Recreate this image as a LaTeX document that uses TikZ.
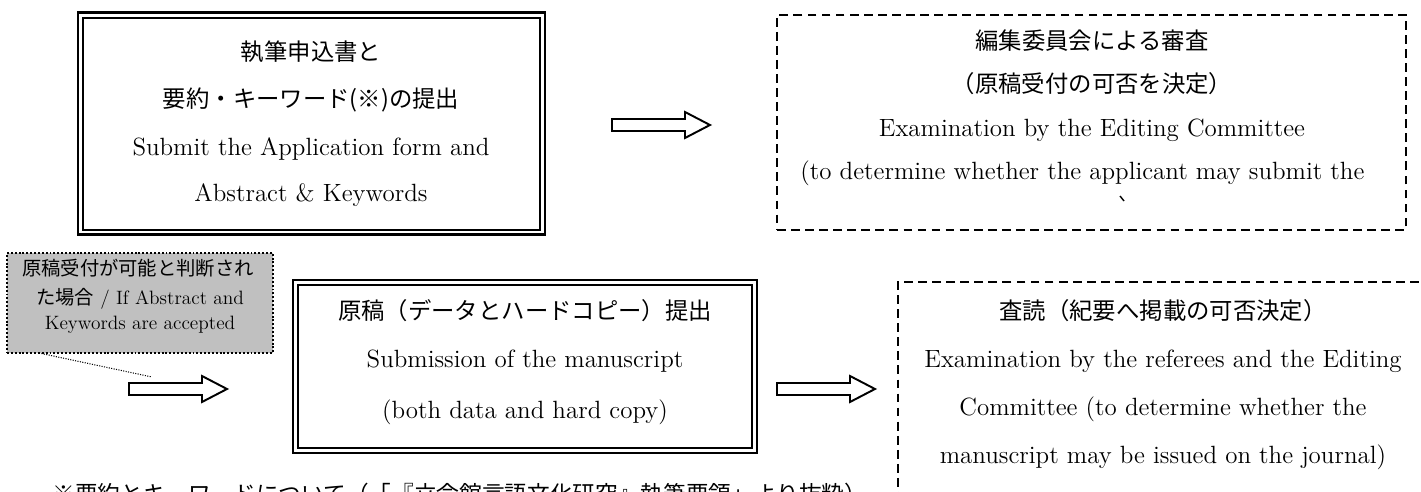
\documentclass[tikz,border=0pt]{standalone}
\usepackage{fontspec}
\newfontfamily\jp{Noto Sans CJK JP}
\usetikzlibrary{fit}
\definecolor{boxgray}{HTML}{C0C0C0}
\newcommand\Jm[1]{{\jp\fontsize{13.3pt}{16pt}\selectfont #1}}
\newcommand\Jg[1]{{\jp\fontsize{11pt}{13pt}\selectfont #1}}
\tikzset{
  dblouter/.style={draw, line width=1.7pt, inner sep=0pt, outer sep=0pt},
  dblinner/.style={draw, line width=0.7pt},
  dashbox/.style={draw, line width=0.85pt, dash pattern=on 5pt off 3pt, inner sep=0pt, outer sep=0pt},
  graybox/.style={draw, fill=boxgray, line width=1.1pt, dash pattern=on 1.1pt off 1.1pt, inner sep=0pt, outer sep=0pt},
  txt/.style={inner sep=0pt, text height=10pt, text depth=0pt, anchor=center, font=\fontsize{14.2pt}{17pt}\selectfont},
  smalltxt/.style={inner sep=0pt, text height=8pt, text depth=0pt, anchor=center, font=\fontsize{11pt}{13pt}\selectfont},
  arrowline/.style={draw, fill=white, line width=1.1pt, line join=miter},
  blockarr/.pic={\path[arrowline] (0,-6) -- (73,-6) -- (73,-13) -- (98,0) -- (73,13) -- (73,6) -- (0,6) -- cycle;},
}
\begin{document}
\begin{tikzpicture}[x=0.02cm,y=-0.02cm]
\useasboundingbox (0,0) rectangle (1421,492);
\clip (0,0) rectangle (1421,492);
\fill[white] (0,0) rectangle (1421,492);

% box 1
\node[dblouter, fit={(78,13) (545,235)}] (b1) {};
\draw[dblinner] ([xshift=0.1cm,yshift=-0.1cm]b1.north west) rectangle ([xshift=-0.1cm,yshift=0.1cm]b1.south east);
\node[txt] (t1a) at (311,52) {\Jm{執筆申込書と}};
\node[txt] (t1b) at (311,99) {\Jm{要約・キーワード(※)の提出}};
\node[txt] (t1c) at (311,147) {Submit the Application form and};
\node[txt] (t1d) at (311,193) {Abstract \& Keywords};

% arrow 1
\pic (a1) at (612,125) {blockarr};

% dashed box 1
\node[dashbox, fit={(777,15) (1406,230)}] (b2) {};
\node[txt] (t2a) at (1092,41) {\Jm{編集委員会による審査}};
\node[txt] (t2b) at (1092,84) {\Jm{（原稿受付の可否を決定）}};
\node[txt] (t2c) at (1092,128) {Examination by the Editing Committee};
\node[txt, anchor=west] (t2d) at (800,171) {(to determine whether the applicant may submit the};
\draw[line width=0.8pt] (1120,196) -- (1124,201);

% gray note
\node[graybox, fit={(7,253) (273,353)}] (g) {};
\node[smalltxt] (g1) at (138,268) {\Jg{原稿受付が可能と判断され}};
\node[smalltxt] (g2) at (140,297) {\Jg{た場合}\ / If Abstract and};
\node[smalltxt] (g3) at (140,322) {Keywords are accepted};
\coordinate (cs) at ([xshift=0.64cm]g.south west);
\coordinate (ce) at (152,377);
\draw[line width=0.6pt, dash pattern=on 0.6pt off 0.8pt] (cs) -- (ce);

% arrow 2
\pic (a2) at (129,389) {blockarr};

% box 2
\node[dblouter, fit={(293,280) (757,453)}] (b3) {};
\draw[dblinner] ([xshift=0.1cm,yshift=-0.1cm]b3.north west) rectangle ([xshift=-0.1cm,yshift=0.1cm]b3.south east);
\node[txt] (t3a) at (525,311) {\Jm{原稿（データとハードコピー）提出}};
\node[txt] (t3b) at (525,359) {Submission of the manuscript};
\node[txt] (t3c) at (525,410) {(both data and hard copy)};

% arrow 3
\pic (a3) at (777,389) {blockarr};

% dashed box 2
\node[dashbox, fit={(898,282) (1428,530)}] (b4) {};
\node[txt] (t4a) at (1163,311) {\Jm{査読（紀要へ掲載の可否決定）}};
\node[txt] (t4b) at (1163,359) {Examination by the referees and the Editing};
\node[txt] (t4c) at (1163,407) {Committee (to determine whether the};
\node[txt] (t4d) at (1163,455) {manuscript may be issued on the journal)};

% footnote
\node[anchor=base west, inner sep=0pt, font=\jp\fontsize{12.9pt}{15pt}\selectfont] (fn) at (52,503) {※要約とキーワードについて（「『立命館言語文化研究』執筆要領」より抜粋）};
\end{tikzpicture}
\end{document}
